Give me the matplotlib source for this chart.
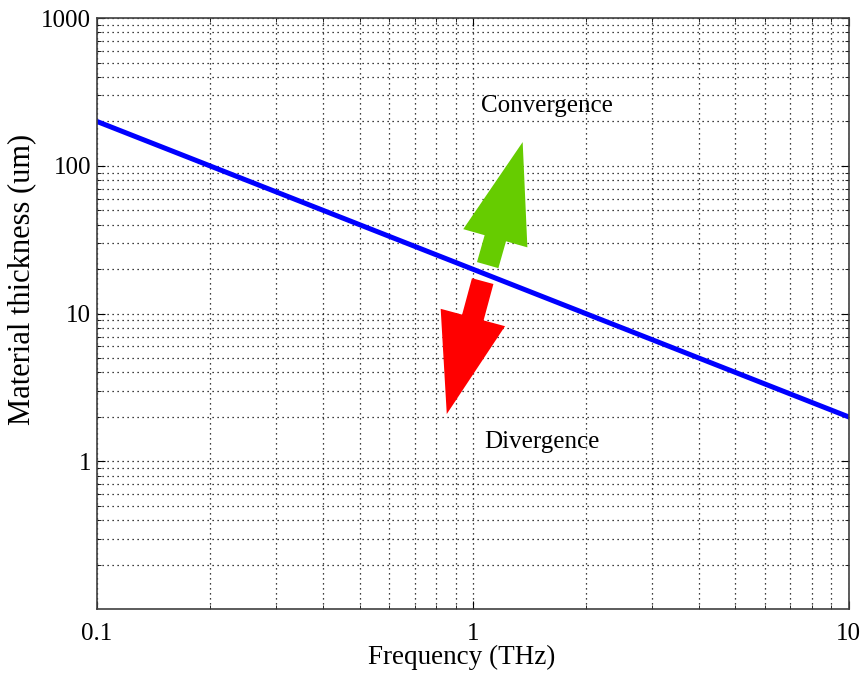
import matplotlib.pyplot as plt
import numpy as np

# material thickness limit vs frequency (thickness = 20 um*THz / f)
freq = [0.1, 10]
thickness = [200, 2]

xticks = [0.1, 1, 10]
xticklabels = ['0.1', '1', '10']
yticks = [1, 10, 100, 1000]
yticklabels = ['1', '10', '100', '1000']

# arrows: (tail, tip) in data units
conv_arrow = [(1.096, 21.3), (1.358, 145)]
div_arrow = [(1.063, 16.6), (0.853, 2.09)]
conv_text = (1.574, 254)
div_text = (1.526, 1.35)

plt.rcParams['font.family'] = 'Liberation Serif'
plt.rcParams['font.size'] = 18

fig = plt.figure(figsize=(8.65, 6.73), dpi=100)
ax = fig.add_axes([0.112, 0.095, 0.869, 0.878])

ax.plot(freq, thickness, color='blue', lw=3.6)

ax.set_xscale('log')
ax.set_yscale('log')
ax.set_xlim(0.1, 10)
ax.set_ylim(0.1, 1000)
ax.set_xticks(xticks)
ax.set_xticklabels(xticklabels)
ax.set_yticks(yticks)
ax.set_yticklabels(yticklabels)

ax.grid(True, which='both', color='black', linestyle=(0, (1, 3)), lw=0.9)
ax.tick_params(which='both', direction='in', top=True, right=True)
ax.tick_params(axis='y', pad=4)
ax.tick_params(axis='x', pad=10)
ax.tick_params(which='major', length=6)
ax.tick_params(which='minor', length=3)
for s in ax.spines.values():
    s.set_color('#404040')
    s.set_linewidth(1.2)

for (tail, tip), col in [(conv_arrow, '#66cc00'), (div_arrow, '#ff0000')]:
    ax.annotate('', xy=tip, xytext=tail,
                arrowprops=dict(arrowstyle='simple,head_length=72,head_width=48,tail_width=16',
                                mutation_scale=1, fc=col, ec='none',
                                shrinkA=0, shrinkB=0))

ax.text(*conv_text, 'Convergence', ha='center', va='center', fontsize=18)
ax.text(*div_text, 'Divergence', ha='center', va='center', fontsize=18)

ax.set_xlabel('Frequency (THz)', fontsize=19.5)
ax.set_ylabel('Material thickness (um)', fontsize=22)
ax.xaxis.set_label_coords(0.4847, -0.061)
ax.yaxis.set_label_coords(-0.081, 0.557)

fig.savefig('out.png', dpi=100)
